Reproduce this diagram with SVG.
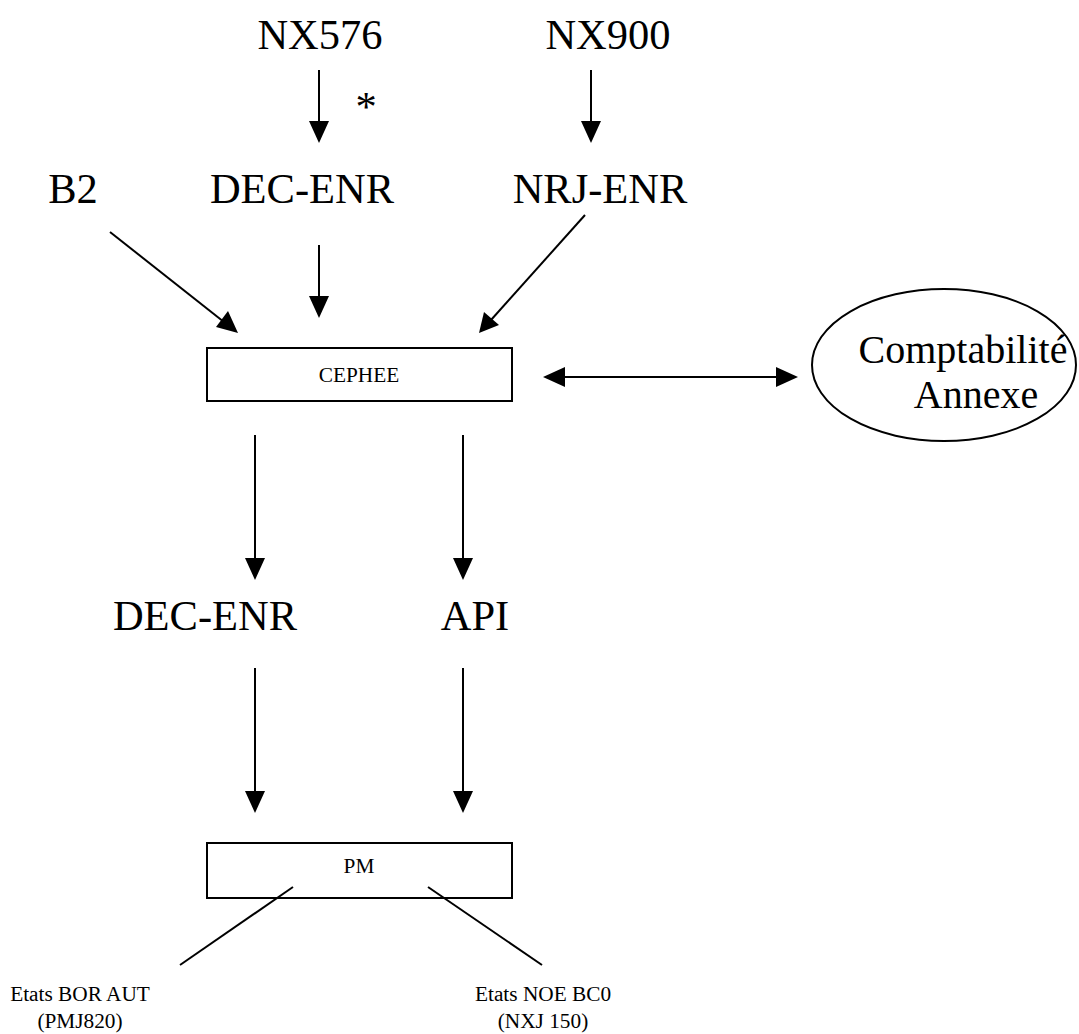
<svg xmlns="http://www.w3.org/2000/svg" width="1079" height="1034" viewBox="0 0 1079 1034">
<defs>
<style>
.big{font-family:"Liberation Serif","Times New Roman",serif;font-size:42.5px;fill:#000;text-anchor:middle}
.mid{font-family:"Liberation Serif","Times New Roman",serif;font-size:40px;fill:#000;text-anchor:middle}
.sm{font-family:"Liberation Serif","Times New Roman",serif;font-size:21.3px;fill:#000;text-anchor:middle}
.box{fill:none;stroke:#000;stroke-width:2}
.c{stroke:#000;stroke-width:2;fill:none}
</style>
</defs>
<rect width="1079" height="1034" fill="#fff"/>
<g id="connectors">
<line class="c" x1="319" y1="70" x2="319" y2="125"/><path d="M309,121 L329,121 L319,143 z"/>
<line class="c" x1="591" y1="70" x2="591" y2="125"/><path d="M581,121 L601,121 L591,143 z"/>
<line class="c" x1="319" y1="245" x2="319" y2="300"/><path d="M309,296 L329,296 L319,318 z"/>
<line class="c" x1="110" y1="232" x2="224" y2="322"/><path d="M238,333 L216,327 L228,311 z"/>
<line class="c" x1="585" y1="215" x2="491" y2="320"/><path d="M479,333 L484,312 L499,325 z"/>
<line class="c" x1="560" y1="377" x2="780" y2="377"/><path d="M543,377 L565,367 L565,387 z"/><path d="M798,377 L776,367 L776,387 z"/>
<line class="c" x1="255" y1="435" x2="255" y2="562"/><path d="M245,558 L265,558 L255,580 z"/>
<line class="c" x1="463" y1="435" x2="463" y2="562"/><path d="M453,558 L473,558 L463,580 z"/>
<line class="c" x1="255" y1="668" x2="255" y2="795"/><path d="M245,791 L265,791 L255,813 z"/>
<line class="c" x1="463" y1="668" x2="463" y2="795"/><path d="M453,791 L473,791 L463,813 z"/>
<line class="c" x1="293" y1="887" x2="180" y2="965"/>
<line class="c" x1="428" y1="887" x2="542" y2="965"/>
</g>
<g id="nx576"><text class="big" x="320" y="49">NX576</text></g>
<g id="nx900"><text class="big" x="608" y="49">NX900</text></g>
<g id="star"><text class="big" x="366" y="121">*</text></g>
<g id="b2"><text class="big" x="73" y="203">B2</text></g>
<g id="dec-enr-top"><text class="big" x="302" y="203">DEC-ENR</text></g>
<g id="nrj-enr"><text class="big" x="600" y="203">NRJ-ENR</text></g>
<g id="cephee"><rect class="box" x="207" y="348" width="305" height="53"/><text class="sm" x="359" y="382">CEPHEE</text></g>
<g id="compta"><ellipse cx="944" cy="365" rx="132" ry="76" fill="none" stroke="#000" stroke-width="2"/><text class="mid" x="963" y="363">Comptabilité</text><text class="mid" x="976" y="408">Annexe</text></g>
<g id="dec-enr-bottom"><text class="big" x="205" y="630">DEC-ENR</text></g>
<g id="api"><text class="big" x="475" y="630">API</text></g>
<g id="pm"><rect class="box" x="207" y="843" width="305" height="55"/><text class="sm" x="359" y="873">PM</text></g>
<g id="etats-bor"><text class="sm" x="80" y="1001">Etats BOR AUT</text><text class="sm" x="80" y="1028">(PMJ820)</text></g>
<g id="etats-noe"><text class="sm" x="543" y="1001">Etats NOE BC0</text><text class="sm" x="543" y="1028">(NXJ 150)</text></g>
</svg>
